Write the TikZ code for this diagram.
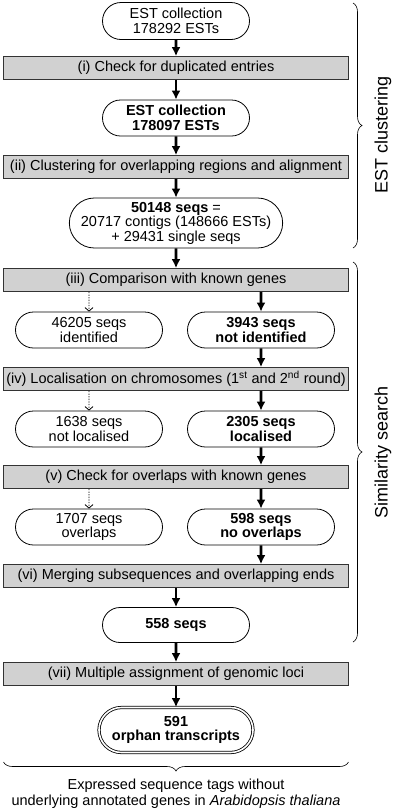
\documentclass[tikz,border=0pt]{standalone}
\usepackage{fontspec}
\setmainfont{Liberation Sans}
\usetikzlibrary{shapes.misc}
\usetikzlibrary{arrows.meta}
\usetikzlibrary{decorations.pathreplacing}
\definecolor{boxgray}{gray}{0.82}

\begin{document}
\begin{tikzpicture}[x=1pt,y=-1pt]
			\tikzset{every node/.style = {font=\fontsize{14.5}{14.5}\selectfont}}
			\tikzset{stepbox/.style = {shape=rectangle,draw=black!80,fill=boxgray,
					line width=0.8pt,minimum width=345pt,minimum height=23pt,
					inner sep=0pt}}
			\tikzset{seqnode/.style = {shape=rounded rectangle,draw,line width=0.8pt,
					minimum width=147pt,minimum height=36pt,inner sep=0pt,align=center}}
			\tikzset{edge/.style = {-{Latex[length=9pt,width=9pt]}, line width=2.6pt}}
			\tikzset{edgeside/.style = {-{Straight Barb[length=3.5pt,width=8pt]},
					dash pattern=on 1.3pt off 1.3pt, line width=0.8pt}}
			\tikzset{bracefig/.style = {decorate,decoration={brace,amplitude=9pt},
					semithick}}
			\tikzset{bracelabel/.style = {rotate=90,font=\fontsize{18}{20}\selectfont}}

		\useasboundingbox (0,0) rectangle (400,812);

		% vertices
		\node[seqnode, minimum height=37pt] (c1) at (176,21) {EST collection\\178292 ESTs};
		\node[stepbox] (s1) at (176,68) {(i) Check for duplicated entries};
		\node[seqnode] (c2) at (176,118) {\textbf{EST collection}\\\textbf{178097 ESTs}};
		\node[stepbox] (s2) at (176,167) {(ii) Clustering for overlapping regions and alignment};
		\node[seqnode, minimum width=208pt, minimum height=50pt] (c3) at (176,223)
			{\textbf{50148 seqs} =\\20717 contigs (148666 ESTs)\\+ 29431 single seqs};
		\node[stepbox] (s3) at (176,280) {(iii) Comparison with known genes};
		\node[seqnode] (l4) at (89,330) {46205 seqs\\identified};
		\node[seqnode] (r4) at (261,330) {\textbf{3943 seqs}\\\textbf{not identified}};
		\node[stepbox] (s4) at (176,379)
			{(iv) Localisation on chromosomes (1\textsuperscript{st} and 2\textsuperscript{nd} round)};
		\node[seqnode] (l5) at (89,429) {1638 seqs\\not localised};
		\node[seqnode] (r5) at (261,429) {\textbf{2305 seqs}\\\textbf{localised}};
		\node[stepbox] (s5) at (176,477) {(v) Check for overlaps with known genes};
		\node[seqnode] (l6) at (89,527) {1707 seqs\\overlaps};
		\node[seqnode] (r6) at (261,527) {\textbf{598 seqs}\\\textbf{no overlaps}};
		\node[stepbox] (s6) at (176,576) {(vi) Merging subsequences and overlapping ends};
		\node[seqnode, minimum height=35pt] (c7) at (176,625) {\textbf{558 seqs}};
		\node[stepbox] (s7) at (176,674) {(vii) Multiple assignment of genomic loci};
		\node[seqnode, double, double distance=1.6pt, minimum width=154pt,
			minimum height=45pt] (c8) at (176,730) {\textbf{591}\\\textbf{orphan transcripts}};

		%braces
		\coordinate (b1top) at (353,3);
		\coordinate (b1bot) at (353,248);
		\coordinate (b2top) at (353,262);
		\coordinate (b2bot) at (353,642);
		\coordinate (b3left) at (3.5,762);
		\coordinate (b3right) at (348.5,762);
		\draw[bracefig] (b1top) -- (b1bot);
		\draw[bracefig] (b2top) -- (b2bot);
		\draw[bracefig] (b3right) -- (b3left);
		\node[bracelabel] (lab1) at (383,135) {EST clustering};
		\node[bracelabel] (lab2) at (383,452) {Similarity search};
		\node[align=center, font=\fontsize{14.5}{16}\selectfont] (lab3) at (176,794)
			{Expressed sequence tags without\\underlying annotated genes in \textit{Arabidopsis thaliana}};

		%edges
		\draw[edge] (c1) -- (s1);
		\draw[edge] (s1) -- (c2);
		\draw[edge] (c2) -- (s2);
		\draw[edge] (s2) -- (c3);
		\draw[edge] (c3) -- (s3);
		\draw[edgeside] (s3.south -| l4) -- (l4);
		\draw[edge] (s3.south -| r4) -- (r4);
		\draw[edge] (r4) -- (s4.north -| r4);
		\draw[edgeside] (s4.south -| l5) -- (l5);
		\draw[edge] (s4.south -| r5) -- (r5);
		\draw[edge] (r5) -- (s5.north -| r5);
		\draw[edgeside] (s5.south -| l6) -- (l6);
		\draw[edge] (s5.south -| r6) -- (r6);
		\draw[edge] (r6) -- (s6.north -| r6);
		\draw[edge] (s6) -- (c7);
		\draw[edge] (c7) -- (s7);
		\draw[edge] (s7) -- (c8);

\end{tikzpicture}
\end{document}
